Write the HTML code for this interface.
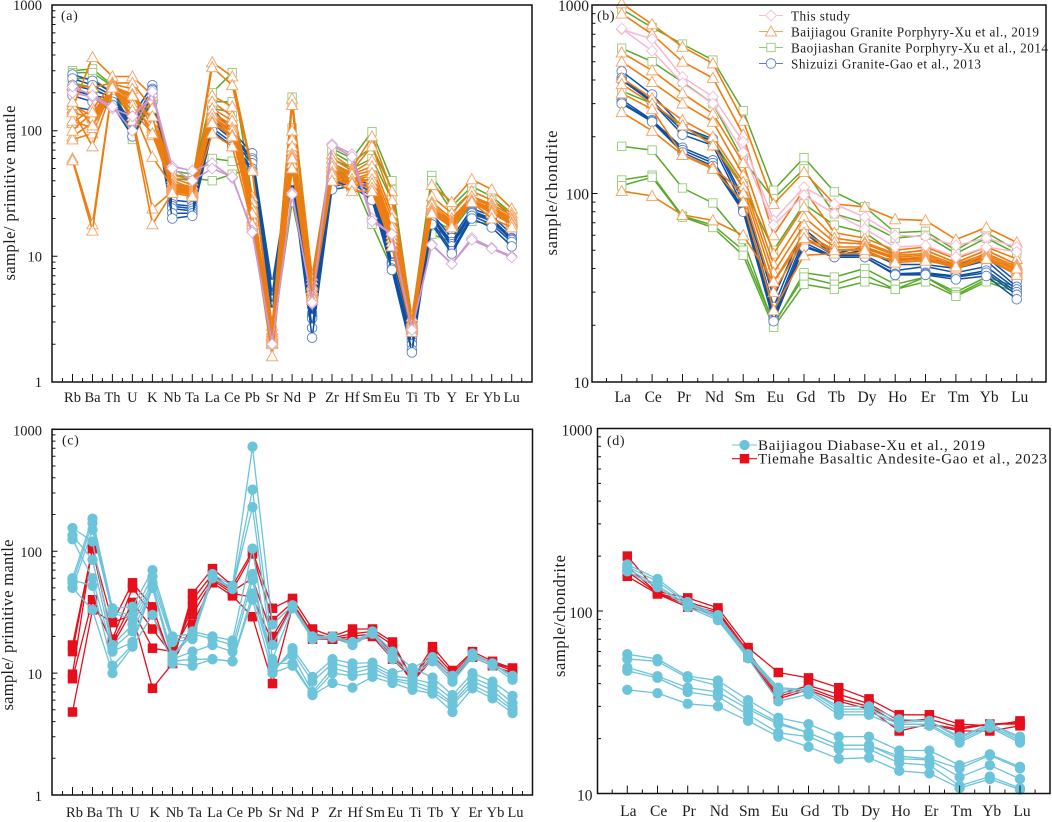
<!DOCTYPE html>
<html lang="en">
<head>
<meta charset="utf-8">
<title>Trace element and REE spider diagrams</title>
<style>
  html, body { margin: 0; padding: 0; background: #fff; }
  svg { display: block; }
  text { font-family: "Liberation Serif", serif; fill: #1c1c1c; }
</style>
</head>
<body>
<svg id="figure" xmlns="http://www.w3.org/2000/svg" width="1052" height="822" viewBox="0 0 1052 822"></svg>
<script>
// ---- categories ----
const traceCategories = ["Rb","Ba","Th","U","K","Nb","Ta","La","Ce","Pb","Sr","Nd","P","Zr","Hf","Sm","Eu","Ti","Tb","Y","Er","Yb","Lu"];
const reeCategories = ["La","Ce","Pr","Nd","Sm","Eu","Gd","Tb","Dy","Ho","Er","Tm","Yb","Lu"];

// ---- axis tick labels ----
const panelATicks = [1, 10, 100, 1000];
const panelBTicks = [10, 100, 1000];

// ---- panel (a) values: sample / primitive mantle ----
const aGreen = [
  [300,310,230,95,200,48,45,60,57,48,2.6,185,6,72,60,98,40,3.2,44,25,36,30,22],
  [290,290,225,90,190,45,42,40,45,50,2.4,160,5.5,68,55,75,34,3,40,23,33,28,21],
  [260,260,200,85,180,42,40,200,290,30,2.2,105,5.2,60,50,60,28,2.9,20,16,26,25,19],
  [240,220,180,110,170,38,35,170,170,24,2.3,30,5,55,45,30,12,2.7,17,14,21,20,17],
  [210,190,160,130,160,36,33,150,140,20,2.1,27,4.8,50,42,18,8,2.5,15,13,19,18,15]
];
const aBlue = [
  [280,250,200,130,230,28,27,150,100,66,6,60,4,42,42,40,10,2.5,22,14,24,21,15],
  [260,230,190,115,215,26,25,130,95,60,5,55,3.5,40,40,38,9,2.2,21,13,23,20,14],
  [230,210,185,110,210,25,24,122,90,58,4.8,52,3.3,39,39,36,8.8,2.1,20.5,12.5,22.5,19.5,13.8],
  [210,190,180,105,200,24,23,115,85,55,4.5,50,3.2,38,38,33,8.5,2,20,12,22,19,13.5],
  [190,170,170,100,190,22,22,105,80,50,4,45,2.7,36,38,30,8,1.8,19,11,21,18,13],
  [155,145,160,90,170,20,21,100,75,48,3.6,40,2.25,34,36,28,7.8,1.72,18,10.5,20,17,12]
];
const aOrange = [
  [150,385,270,270,190,45,40,350,270,50,2.8,180,7,65,50,90,33,3.3,37,27,41,34,24],
  [230,220,240,240,150,42,37,320,230,48,2.6,160,6.5,60,48,75,28,3.1,30,22,33,28,22],
  [115,150,235,215,105,40,35,190,155,30,2.5,100,6,55,46,58,22,3,27,20,30,26,21],
  [90,115,230,180,92,38,34,170,130,28,2.4,85,5.5,50,44,48,18,2.9,24,19,29,25,20],
  [85,95,220,150,62,36,32,140,110,25,2.3,70,5.2,48,42,40,15,2.8,23,18,28,23,19],
  [145,75,215,165,150,35,33,130,100,19,2,55,5,42,36,42,14,2.7,25,18,28,24,19],
  [160,130,225,195,120,37,33,150,120,27,2.35,75,5.8,52,45,52,20,2.95,26,19,30,25,20],
  [120,105,228,170,100,34,32,125,95,23,2.2,65,5.4,46,40,44,16,2.75,24,18,28,23,19],
  [140,125,222,190,110,36,33,135,105,24,2.25,62,5.1,47,41,46,17,2.85,24,18.5,28,24,19.5],
  [100,140,218,160,130,35,32,125,100,22,2.15,55,4.9,44,39,41,15,2.7,23,18,27,23,18.5],
  [170,110,210,145,95,34,31,118,92,20,2.05,50,4.7,43,37,38,14,2.65,22.5,17.5,27,22.5,18],
  [60,18,225,130,24,33,31,115,90,22,2.1,60,4.8,45,38,35,13,2.6,22,17,27,22,18],
  [58,16,220,120,18,32,30,95,75,18,1.6,50,4.5,40,33,33,12,2.5,22,17,27,20,17]
];
const aPink = [
  [200,185,150,130,190,52,48,55,42,16,2,32,4.2,78,65,20,15,2.6,12.5,8.7,14,11.7,10],
  [225,190,155,100,205,50,40,50,43,15.5,2,31,4.3,76,62,19,15,2.6,12.3,8.7,13.5,11.5,9.8]
];

// ---- panel (b) values: sample / chondrite ----
const bGreen = [
  [950,760,620,510,275,104,155,102,85,62,63,50,62,50],
  [590,500,390,300,150,94,135,78,70,58,60,48,58,48],
  [350,300,225,190,110,50,88,68,62,48,50,43,50,42],
  [178,170,107,89,57,20,38,36,40,33,36,30,36,32],
  [118,125,76,68,50,20.5,36,33,37,31,36,29,35,31],
  [110,122,75,66,47,19.5,33,31,34,31,34,28.5,34,30]
];
const bBlue = [
  [445,335,225,195,95,28,65,48,52,45,45,42,46,34],
  [410,310,215,190,90,25,62,47,50,42,42,40,44,32],
  [400,305,205,180,85,23,58,47,47,39,41,38,41,31],
  [315,245,175,150,83,22,55,46,46,37.5,38,36.5,39,30],
  [305,242,170,145,82,21.5,53,46,46,37,37.5,36,38,29],
  [300,240,165,140,80,21,52,46,46,37,37,35,36.5,27.5]
];
const bOrange = [
  [1020,790,600,490,243,88,130,88,85,73,72,57,66,55],
  [900,700,500,410,205,60,105,62,58,50,52,45,52,45],
  [560,450,340,265,145,48,85,58,55,48,50,43,50,42],
  [500,390,300,240,125,42,75,55,54,47,48,42,48,41],
  [410,320,245,200,115,38,68,52,52,46,47,41,47,40],
  [380,300,230,180,108,34,62,50,51,45,46,40,46,39],
  [340,280,160,138,100,30,57,48,48,44,45,40,45,38],
  [270,215,160,135,90,24,47,48,48,44,45,41,45,37],
  [103,97,77,72,60,34,58,50,50,43,44,41,45,40]
];
const bPink = [
  [742,660,415,326,188,72,108,88,75,60,59,53,58,52],
  [750,570,385,300,165,68,98,78,65,52,53,46,52,49]
];

// ---- panel (c) values: sample / primitive mantle ----
const cRed = [
  [17,105,26,55,35,12,45,72,52,100,34,41,23,20,23,23,18,9,16.5,10.5,15,12.5,11],
  [15,105,19,50,30,13,40,65,48,95,27,38,21,19.5,21,22,17,9,15,10,14.5,12,11],
  [9.8,110,18,38,23,14,35,60,47,60,20,37,20,19,20,21,15,8.5,14,9.5,14,12,10.5],
  [9,40,17,33,16,15,30,58,45,42,18,36,20,19,19,20,14,8.5,13,9,13.5,11.5,10],
  [4.8,33,26,30,7.5,12,25,55,43,29,8.2,35,19,19,18,20,13,9,13,9,13.5,11.5,10]
];
const cCyan = [
  [60,185,34,35,70,20,21,65,52,720,25,36,20,20,18,22,15,11,13.5,9.5,14.5,12,9.5],
  [55,170,32,30,62,19,20,62,50,320,17,35,19.5,20,17.5,21.5,14,10,13,9,14,12,9.2],
  [50,150,31,28,55,18,19,60,49,230,13,34,19,19.5,17,21,13,9.5,12.5,8.5,13.5,11.5,8.8],
  [155,120,17,25,52,14,22,20,18.5,105,10,16,9.3,13,12,12.2,10,11,9.2,6.6,10,8.5,6.5],
  [135,85,16,22,50,13.5,21,19,17,65,10.5,15,8.5,12,11,11.5,9.5,9,8.2,6.1,9.2,7.8,5.7],
  [125,60,15,18,52,13,15,17,15,58,11,14,7,11,10,11,9,8.5,7.5,5.7,8.6,7.2,5.2],
  [58,52,11.5,17,50,12.5,13,13,12.5,45,12,12,6.7,10,9.5,10,8.8,8,7,5.5,8,6.6,5],
  [50,33,10,16.5,30,12,11.5,13,12.5,40,10,11.5,6.6,8.3,7.6,9.3,8.3,7.3,6.8,4.8,7.5,6.2,4.7]
];

// ---- panel (d) values: sample / chondrite ----
const dRed = [
  [200,128,118,104,63,46,43,38,33,27,27,24,23.5,25],
  [175,126,112,100,60,35,39,35,31,25,25.5,23,24,24.5],
  [165,125,108,98,58,34,38,33,30,24,24,22.5,24,24],
  [155,124,105,95,56,33,37,32,29,22,24,22,22,23.5]
];
const dCyan = [
  [180,150,112,95,58,38,37,30,30,25.5,25,20.5,24,20.5],
  [175,145,110,93,57,37,37,29,29,24.5,25,20,24,20],
  [170,138,108,91,56,36,36,28,28,24,24,19.5,23.5,19.5],
  [165,135,105,89,55,32,35,27,27,23,23.5,19,23,19],
  [58,54.6,44,41.6,32.5,26,24,20.5,20.5,17.2,17.2,14.3,16.4,14],
  [54.6,53,43,39,30,24.5,21.5,18.4,18.4,16,15.5,13.7,16.2,13.7],
  [49,44,38,36,29,24,21.5,18.4,18.4,15.5,15.3,12.3,14.3,12],
  [47,43,36,34,27,21.5,20.5,17.5,17.5,14.7,14.3,11,12.4,10.7],
  [37,35.5,31,30,25,20.5,18,15.5,15.7,13.3,12.9,10.7,12,10.5]
];

// ---- legend labels ----
const bLegendLabels = ["This study","Baijiagou Granite Porphyry-Xu et al., 2019","Baojiashan Granite Porphyry-Xu et al., 2014","Shizuizi Granite-Gao et al., 2013"];
const dLegendLabels = ["Baijiagou Diabase-Xu et al., 2019","Tiemahe Basaltic Andesite-Gao et al., 2023"];

const NS = "http://www.w3.org/2000/svg";
const figure = document.getElementById("figure");

function make(parent, tag, attrs) {
  const el = document.createElementNS(NS, tag);
  for (const k in attrs) el.setAttribute(k, attrs[k]);
  parent.appendChild(el);
  return el;
}

const styles = {
  orange: { line: "#ee7d11", edge: "#f3a263", fill: "#fff", shape: "triangle", size: 5.6, width: 1.6 },
  green:  { line: "#5aa92c", edge: "#93cb76", fill: "#fff", shape: "square",   size: 4.2, width: 1.5 },
  blue:   { line: "#0d50a5", edge: "#5a80c4", fill: "#fff", shape: "circle",   size: 4.8, width: 1.5 },
  pinkA:  { line: "#cf95cd", edge: "#d9afd8", fill: "#fff", shape: "diamond",  size: 5.4, width: 1.6 },
  pinkB:  { line: "#f5b8d2", edge: "#f5bcd6", fill: "#fff", shape: "diamond",  size: 5.4, width: 1.5 },
  red:    { line: "#e60f1c", edge: "#e60f1c", fill: "#e60f1c", shape: "square", size: 4.3, width: 1.3 },
  cyan:   { line: "#6cc4da", edge: "#6cc4da", fill: "#6cc4da", shape: "circle", size: 4.7, width: 1.3 }
};

function marker(parent, style, x, y) {
  const s = style.size;
  const common = { fill: style.fill, stroke: style.edge, "stroke-width": 0.9 };
  let el;
  if (style.shape === "circle") {
    el = make(parent, "circle", Object.assign({ cx: x, cy: y, r: s }, common));
  } else if (style.shape === "square") {
    el = make(parent, "rect", Object.assign({ x: x - s, y: y - s, width: 2 * s, height: 2 * s }, common));
  } else if (style.shape === "triangle") {
    el = make(parent, "polygon", Object.assign({ points: `${x},${y - s} ${x + s},${y + s * 0.8} ${x - s},${y + s * 0.8}` }, common));
  } else {
    el = make(parent, "polygon", Object.assign({ points: `${x},${y - s} ${x + s},${y} ${x},${y + s} ${x - s},${y}` }, common));
  }
  return el;
}

function drawPanel(cfg) {
  const g = make(figure, "g", {});
  
  

  const n = cfg.categories.length;
  const step = (cfg.lastX - cfg.firstX) / (n - 1);
  const xScale = i => cfg.firstX + i * step;
  const decadePx = (cfg.bottom - cfg.top) / Math.log10(cfg.maxV / cfg.minV);
  const yScale = v => cfg.bottom - Math.log10(v / cfg.minV) * decadePx;

  // plotted series, drawn group by group
  const plot = make(g, "g", {});
  
  
  cfg.groups.forEach(group => {
    group.rows.forEach((row, r) => {
      const sg = make(plot, "g", {});
      
      
      const pts = row.map((v, i) => xScale(i).toFixed(1) + "," + yScale(v).toFixed(1)).join(" ");
      const line = make(sg, "polyline", { points: pts, fill: "none", stroke: group.style.line, "stroke-width": group.style.width, "stroke-linejoin": "round" });
      
      
      row.forEach((v, i) => {
        const m = marker(sg, group.style, +xScale(i).toFixed(1), +yScale(v).toFixed(1));
        
        
      });
    });
  });

  // frame
  const frame = make(g, "rect", { x: cfg.left, y: cfg.top, width: cfg.right - cfg.left, height: cfg.bottom - cfg.top, fill: "none", stroke: "#111", "stroke-width": 1.5 });
  
  

  // y axis ticks (log)
  const yAxis = make(g, "g", {});
  
  
  let d = "";
  for (let dec = cfg.minV; dec < cfg.maxV; dec *= 10) {
    for (let k = 2; k <= 9; k++) {
      const y = yScale(dec * k).toFixed(1);
      d += `M${cfg.left} ${y}h3.5`;
    }
  }
  cfg.ticks.forEach(t => {
    d += `M${cfg.left} ${yScale(t).toFixed(1)}h5.5`;
    const label = make(yAxis, "text", { x: cfg.left - 10 + cfg.tickDx, y: (yScale(t) + cfg.tickDy).toFixed(1), "text-anchor": "end", "font-size": cfg.labelFont });
    label.textContent = t;
    
    
  });
  const yTicks = make(yAxis, "path", { d: d, stroke: "#111", "stroke-width": 1, fill: "none" });
  
  

  // x axis ticks
  const xAxis = make(g, "g", {});
  
  
  let dx = "";
  for (let h = -2; h <= 2 * n; h++) {
    const x = xScale(h / 2);
    if (x <= cfg.left + 2 || x >= cfg.right - 2) continue;
    dx += `M${x.toFixed(1)} ${cfg.bottom}v${h % 2 === 0 ? -8 : -4}`;
  }
  const xTicks = make(xAxis, "path", { d: dx, stroke: "#111", "stroke-width": 1, fill: "none" });
  
  
  cfg.categories.forEach((c, i) => {
    const label = make(xAxis, "text", { x: (xScale(i) + cfg.catDx + cfg.catDrift * i / (n - 1)).toFixed(1), y: cfg.catY, "text-anchor": "middle", "font-size": cfg.labelFont });
    label.textContent = c;
    
    
  });

  // y axis title
  const title = make(g, "text", {
    x: cfg.titleX, y: cfg.titleY, "text-anchor": "middle", "font-size": 16.5,
    textLength: cfg.titleLen, lengthAdjust: "spacing",
    transform: `rotate(-90 ${cfg.titleX} ${cfg.titleY})`
  });
  title.textContent = cfg.title;
  
  

  // panel tag
  const tag = make(g, "text", { x: cfg.tagX, y: cfg.tagY, "font-size": 14, "letter-spacing": 0.6 });
  tag.textContent = "(" + cfg.id + ")";
  
  
}

function drawLegend(cfg) {
  const g = make(figure, "g", {});
  
  
  cfg.labels.forEach((lab, i) => {
    const y = cfg.rowY(i);
    const e = make(g, "g", {});
    
    
    make(e, "line", { x1: cfg.lineX1, x2: cfg.lineX2, y1: y, y2: y, stroke: cfg.styles[i].edge, "stroke-width": 1.1 });
    const style = Object.assign({}, cfg.styles[i]);
    marker(e, style, (cfg.lineX1 + cfg.lineX2) / 2, y);
    const t = make(e, "text", { x: cfg.textX, y: y + cfg.textDy, "font-size": cfg.fontSize, textLength: cfg.widths[i], lengthAdjust: "spacing" });
    t.textContent = lab;
  });
}

drawPanel({
  id: "a", categories: traceCategories, left: 52, right: 532, top: 5, bottom: 382, minV: 1, maxV: 1000,
  firstX: 72.5, lastX: 511.7, ticks: panelATicks, tickDx: 0, tickDy: 5, catY: 402, catDx: 0, catDrift: 0, labelFont: 14.5,
  title: "sample/ primitive mantle", titleX: 15, titleY: 193, titleLen: 175, tagX: 61, tagY: 20,
  groups: [
    { name: "baojiashan", style: styles.green, rows: aGreen },
    { name: "shizuizi", style: styles.blue, rows: aBlue },
    { name: "baijiagou", style: styles.orange, rows: aOrange },
    { name: "this-study", style: styles.pinkA, rows: aPink }
  ]
});

drawPanel({
  id: "b", categories: reeCategories, left: 592, right: 1046, top: 5, bottom: 382, minV: 10, maxV: 1000,
  firstX: 621.7, lastX: 1016.7, ticks: panelBTicks, tickDx: 7, tickDy: 6, catY: 402, catDx: 1, catDrift: 2, labelFont: 15.5,
  title: "sample/chondrite", titleX: 557, titleY: 193, titleLen: 125, tagX: 597, tagY: 20,
  groups: [
    { name: "baojiashan", style: styles.green, rows: bGreen },
    { name: "shizuizi", style: styles.blue, rows: bBlue },
    { name: "baijiagou", style: styles.orange, rows: bOrange },
    { name: "this-study", style: styles.pinkB, rows: bPink }
  ]
});

drawPanel({
  id: "c", categories: traceCategories, left: 52, right: 532.5, top: 429.3, bottom: 795, minV: 1, maxV: 1000,
  firstX: 72.5, lastX: 512.5, ticks: panelATicks, tickDx: 0, tickDy: 6, catY: 817, catDx: 2, catDrift: 1, labelFont: 14.5,
  title: "sample/ primitive mantle", titleX: 13, titleY: 625, titleLen: 171, tagX: 62, tagY: 444.5,
  groups: [
    { name: "tiemahe", style: styles.red, rows: cRed },
    { name: "baijiagou-diabase", style: styles.cyan, rows: cCyan }
  ]
});

drawPanel({
  id: "d", categories: reeCategories, left: 597.5, right: 1050, top: 428.5, bottom: 793.5, minV: 10, maxV: 1000,
  firstX: 627.3, lastX: 1020, ticks: panelBTicks, tickDx: 5, tickDy: 7, catY: 816, catDx: 1, catDrift: 1, labelFont: 15.5,
  title: "sample/chondrite", titleX: 565, titleY: 616, titleLen: 122, tagX: 607, tagY: 445,
  groups: [
    { name: "tiemahe", style: styles.red, rows: dRed },
    { name: "baijiagou-diabase", style: styles.cyan, rows: dCyan }
  ]
});

drawLegend({
  id: "b", labels: bLegendLabels, lineX1: 759, lineX2: 783, textX: 791, textDy: 5, fontSize: 13.2,
  rowY: i => 15.5 + i * 16,
  widths: [59, 248, 257, 190],
  styles: [styles.pinkB, styles.orange, styles.green, styles.blue]
});

drawLegend({
  id: "d", labels: dLegendLabels, lineX1: 732, lineX2: 757, textX: 758, textDy: 5, fontSize: 15,
  rowY: i => 445 + i * 13.7,
  widths: [227, 289],
  styles: [styles.cyan, styles.red]
});
</script>
</body>
</html>
